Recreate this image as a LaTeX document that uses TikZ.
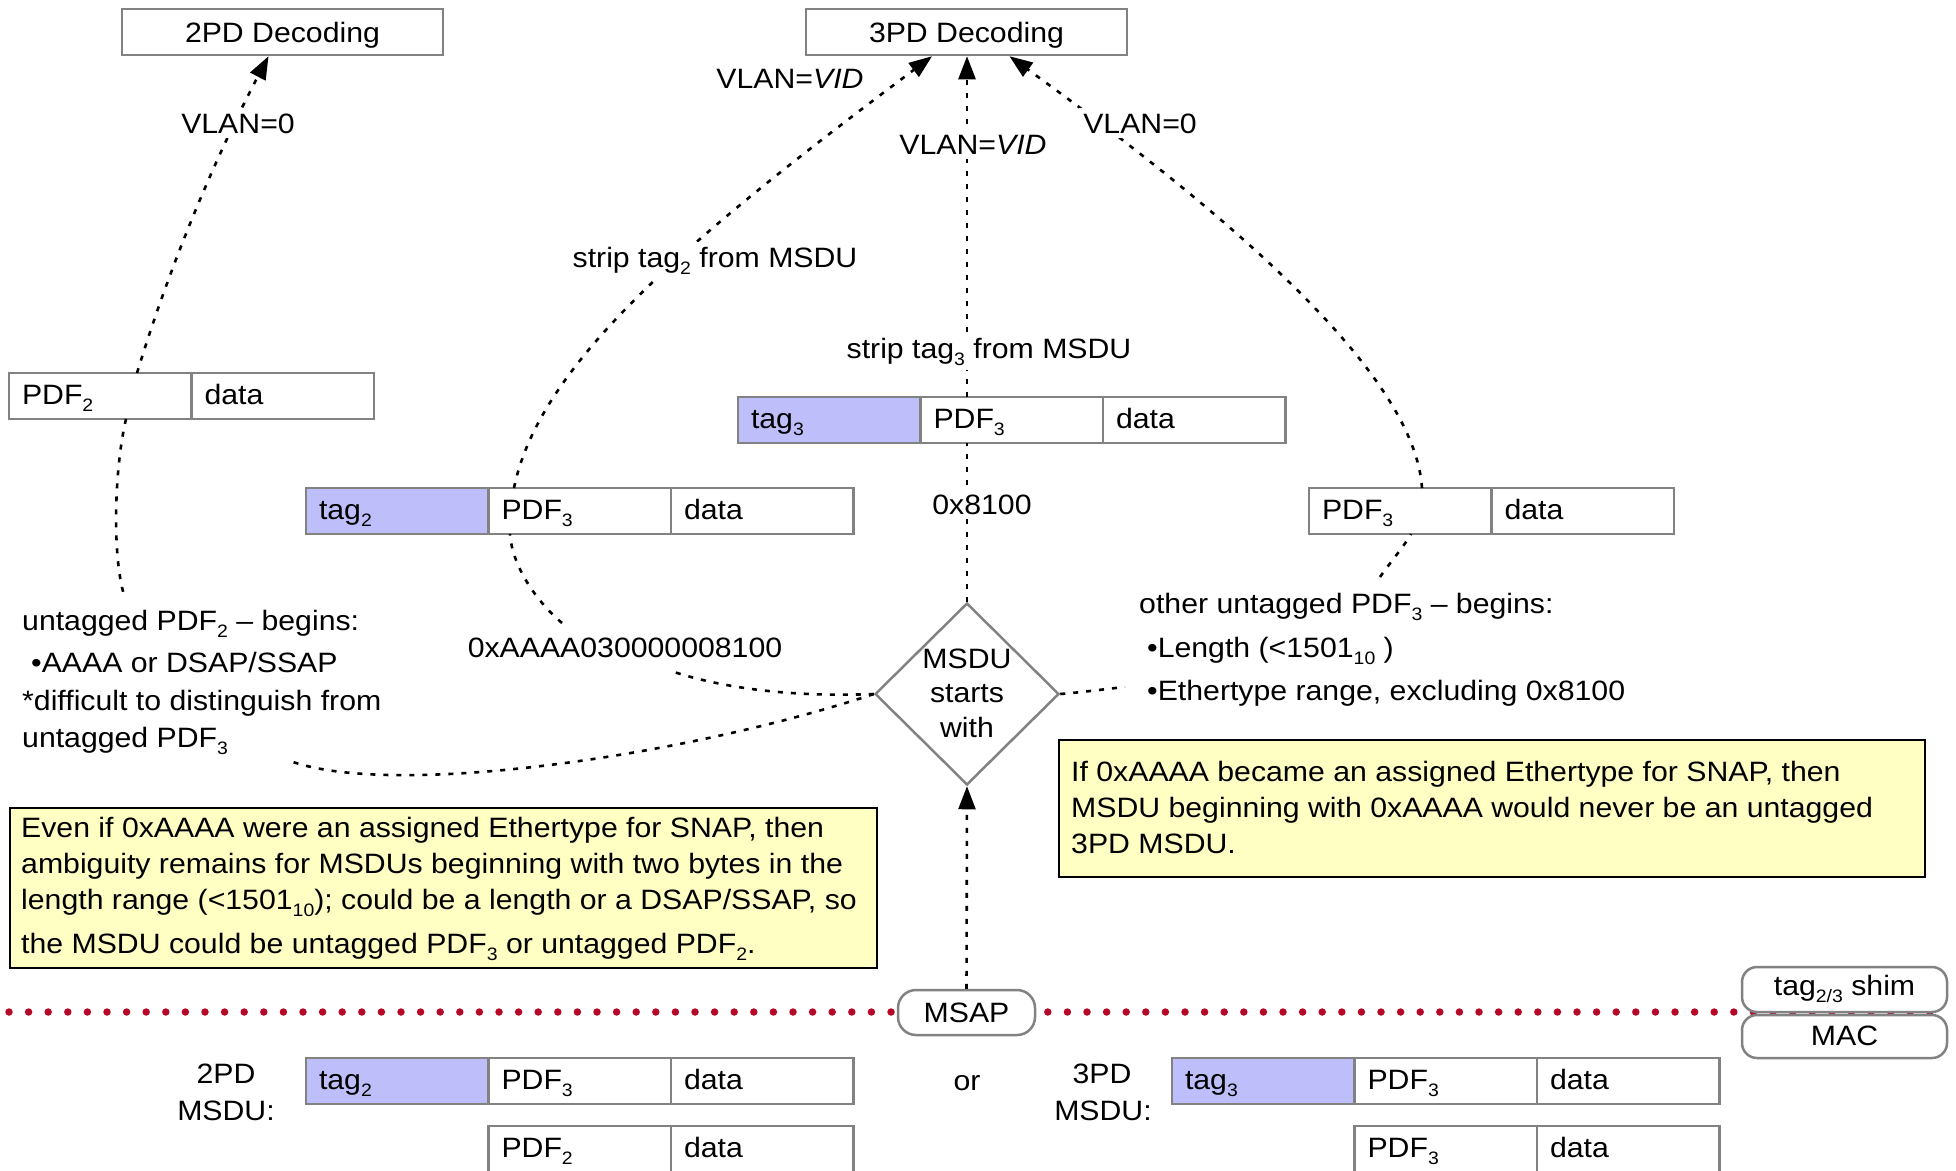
\documentclass[tikz,border=0pt]{standalone}
\usepackage{fontspec}
\setmainfont{Liberation Sans}[FakeStretch=1.08]
\usetikzlibrary{shapes.geometric,arrows.meta,calc}
\definecolor{boxgray}{RGB}{130,130,130}
\definecolor{tagblue}{RGB}{190,190,250}
\definecolor{noteyellow}{RGB}{255,255,196}
\definecolor{dotred}{RGB}{180,10,40}
\newcommand{\sbx}[1]{\raisebox{-7pt}{\fontsize{18}{18}\selectfont #1}}
\begin{document}
\begin{tikzpicture}[x=1pt,y=-1pt,font=\fontsize{28}{34}\selectfont,
  cell/.style={draw=boxgray,line width=2.5pt,fill=white,anchor=north west,outer sep=0pt,
    text width=156.5pt,align=left,inner xsep=13pt,inner ysep=0pt,
    text height=31pt,text depth=15pt},
  tagcell/.style={cell,fill=tagblue},
  decbox/.style={draw=boxgray,line width=2.5pt,fill=white,minimum width=321pt,
    minimum height=46pt,inner sep=0pt,text height=20pt,text depth=0pt},
  rbox/.style={draw=boxgray,line width=2.5pt,fill=white,rounded corners=18pt,
    inner sep=0pt},
  note/.style={draw=black,line width=1.5pt,fill=noteyellow,inner sep=0pt,anchor=north west},
  conn/.style={line width=2.6pt,dash pattern=on 5pt off 8pt},
  arr/.style={conn,-{Triangle[length=23pt,width=17pt]}},
  lbl/.style={inner sep=0pt,anchor=base},
  mask/.style={lbl,fill=white,inner xsep=4pt,inner ysep=5pt},
  txt/.style={inner sep=0pt,anchor=base west},
  redline/.style={draw=dotred,line width=7.5pt,line cap=round,dash pattern=on 0pt off 19.6pt}]
\useasboundingbox (0,0) rectangle (1956,1170);

% red service boundary
\coordinate (redL) at (9,1012);
\coordinate (redR) at (1948,1012);
\draw[redline] (redL) -- (redR);

% decoding boxes
\node[decbox] (dec2) at (282.5,32) {2PD Decoding};
\node[decbox] (dec3) at (966.5,32) {3PD Decoding};

% frame rows
\node[cell] (a1) at (9,373) {PDF\sbx{2}};
\node[cell] (a2) at (a1.north east) {data};

\node[tagcell] (b1) at (738,397) {tag\sbx{3}};
\node[cell] (b2) at (b1.north east) {PDF\sbx{3}};
\node[cell] (b3) at (b2.north east) {data};

\node[tagcell] (c1) at (306,488) {tag\sbx{2}};
\node[cell] (c2) at (c1.north east) {PDF\sbx{3}};
\node[cell] (c3) at (c2.north east) {data};

\node[cell] (d1) at (1309,488) {PDF\sbx{3}};
\node[cell] (d2) at (d1.north east) {data};

\node[tagcell] (e1) at (306,1058) {tag\sbx{2}};
\node[cell] (e2) at (e1.north east) {PDF\sbx{3}};
\node[cell] (e3) at (e2.north east) {data};
\node[cell] (f1) at (488.5,1126) {PDF\sbx{2}};
\node[cell] (f2) at (f1.north east) {data};

\node[tagcell] (g1) at (1172,1058) {tag\sbx{3}};
\node[cell] (g2) at (g1.north east) {PDF\sbx{3}};
\node[cell] (g3) at (g2.north east) {data};
\node[cell] (h1) at (1354.5,1126) {PDF\sbx{3}};
\node[cell] (h2) at (h1.north east) {data};

% decision diamond
\node[diamond,draw=boxgray,line width=2.5pt,minimum width=184pt,minimum height=182pt,inner sep=0pt] (dia) at (967,694) {};
\node[lbl] (dia1) at (967,668) {MSDU};
\node[lbl] (dia2) at (967,702) {starts};
\node[lbl] (dia3) at (967,737) {with};

% notes
\node[note,minimum width=867pt,minimum height=160pt] (noteL) at (9,807) {};
\node[txt] (nl1) at (21,837) {Even if 0xAAAA were an assigned Ethertype for SNAP, then};
\node[txt] (nl2) at (21,873) {ambiguity remains for MSDUs beginning with two bytes in the};
\node[txt] (nl3) at (21,909) {length range (<1501\sbx{10}); could be a length or a DSAP/SSAP, so};
\node[txt] (nl4) at (21,953) {the MSDU could be untagged PDF\sbx{3} or untagged PDF\sbx{2}.};

\node[note,minimum width=866pt,minimum height=137pt] (noteR) at (1058,739) {};
\node[txt] (nr1) at (1071,781) {If 0xAAAA became an assigned Ethertype for SNAP, then};
\node[txt] (nr2) at (1071,817) {MSDU beginning with 0xAAAA would never be an untagged};
\node[txt] (nr3) at (1071,853) {3PD MSDU.};

% side texts
\node[txt] (lt1) at (22,630) {untagged PDF\sbx{2} – begins:};
\node[txt] (lt2) at (31,672) {•AAAA or DSAP/SSAP};
\node[txt] (lt3) at (22,710) {*difficult to distinguish from};
\node[txt] (lt4) at (22,747) {untagged PDF\sbx{3}};

\node[txt] (rt1) at (1139,613) {other untagged PDF\sbx{3} – begins:};
\node[txt] (rt2) at (1147,657) {•Length (<1501\sbx{10} )};
\node[txt] (rt3) at (1147,700) {•Ethertype range, excluding 0x8100};

\node[lbl] (aaaa) at (625,657) {0xAAAA030000008100};

% service access point and shim
\node[rbox,minimum width=137pt,minimum height=45pt,text height=20pt,text depth=0pt] (msap) at (966.5,1012.5) {MSAP};
\node[rbox,rounded corners=15pt,minimum width=205pt,minimum height=45pt,text height=20pt,text depth=8pt] (shim) at (1844.5,989.5) {tag\sbx{2/3} shim};
\node[rbox,rounded corners=15pt,minimum width=205pt,minimum height=43pt,text height=20pt,text depth=3pt] (mac) at (1844.5,1036.5) {MAC};

% bottom labels
\node[lbl] (l2pd) at (226,1083) {2PD};
\node[lbl] (l2ms) at (226,1120) {MSDU:};
\node[lbl] (lor) at (967,1090) {or};
\node[lbl] (l3pd) at (1102,1083) {3PD};
\node[lbl] (l3ms) at (1103,1120) {MSDU:};

% free ends of connectors
\coordinate (ltop) at (125,598);
\coordinate (lbot) at (293,762);
\coordinate (aaaaR) at (674,672);
\coordinate (aaaaT) at (562,623);
\coordinate (rtop) at (1380,577);
\coordinate (rmid) at (1125,687);

% connectors
\draw[arr] ([xshift=128pt]a1.north west) .. controls (170,265) and (214,160) .. ([xshift=-14pt]dec2.south);
\draw[conn] ([xshift=117pt]a1.south west) .. controls (114,470) and (112,560) .. (ltop);
\draw[arr] ([xshift=25.5pt]c2.north west) .. controls (540,360) and (700,230) .. ([xshift=-34.5pt]dec3.south);
\draw[conn] (dia.north) -- (dia.north |- b2.south);
\draw[arr] (dia.north |- b2.north) -- (dia.north |- dec3.south);
\draw[arr] ([xshift=113pt]d1.north west) .. controls (1415,380) and (1250,230) .. ([xshift=43pt]dec3.south);
\draw[conn] (rtop) .. controls (1392,560) and (1405,545) .. ([xshift=102pt]d1.south west);
\draw[conn] (dia.east) .. controls (1085,692) and (1105,689) .. (rmid);
\draw[conn] (dia.west) .. controls (800,697) and (730,690) .. (aaaaR);
\draw[conn] (aaaaT) .. controls (535,600) and (512,565) .. ([xshift=21.5pt]c2.south west);
\draw[conn] (dia.west) .. controls (690,755) and (400,798) .. (lbot);
\draw[arr] (msap.north) -- (dia.south);

% connector labels
\node[mask] (vl0L) at (238,133) {VLAN=0};
\node[lbl] (vlvL) at (790,88) {VLAN=\textit{VID}};
\node[mask] (vlvM) at (973,154) {VLAN=\textit{VID}};
\node[mask] (vl0R) at (1140,133) {VLAN=0};
\node[mask] (st2) at (715,267) {strip tag\sbx{2} from MSDU};
\node[mask] (st3) at (989,358) {strip tag\sbx{3} from MSDU};
\node[mask] (x81) at (982,514) {0x8100};
\end{tikzpicture}
\end{document}
